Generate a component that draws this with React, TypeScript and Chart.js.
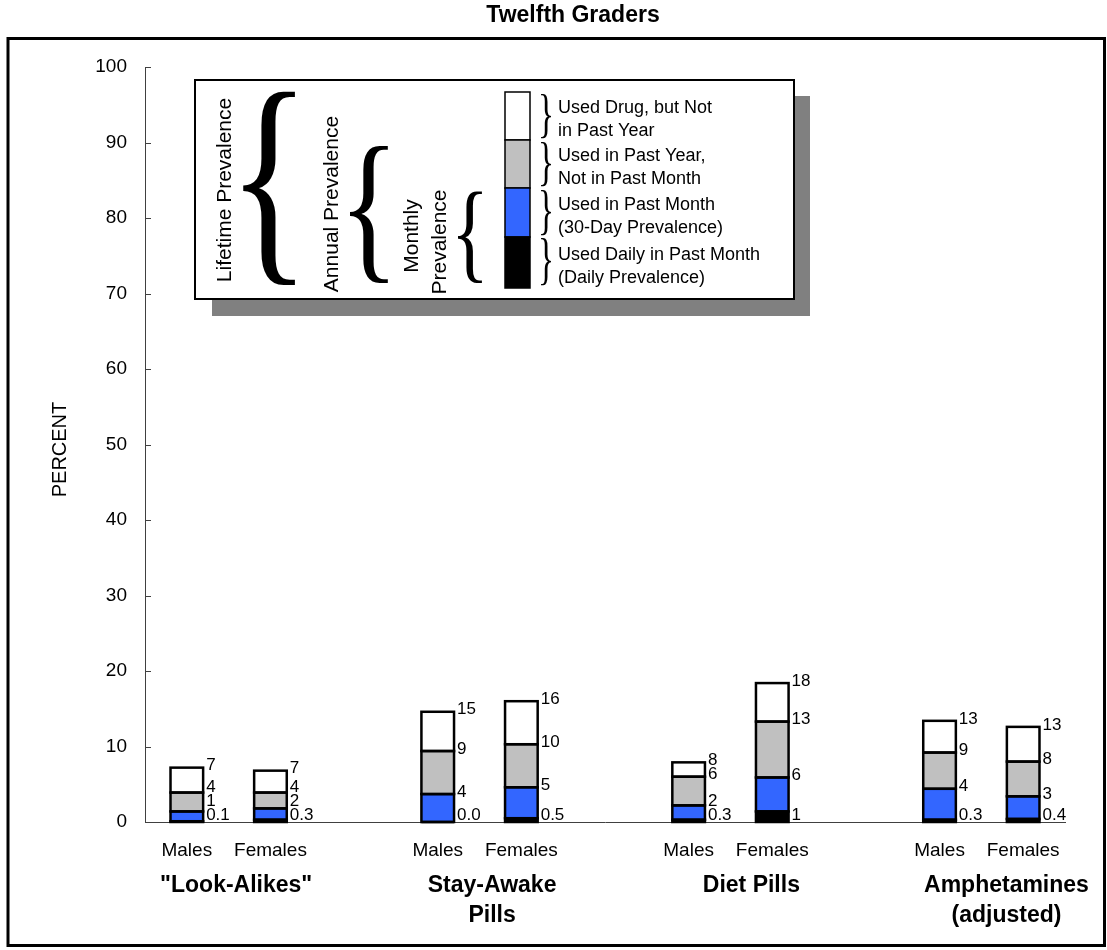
import React, { useEffect, useRef } from 'react';
import { Chart, registerables } from 'chart.js';

Chart.register(...registerables);

// ---------- Data ----------
const title = 'Twelfth Graders';
const yAxisTitle = 'PERCENT';
const groups = ['"Look-Alikes"', 'Stay-Awake\nPills', 'Diet Pills', 'Amphetamines\n(adjusted)'];
const sexes = ['Males', 'Females'];
// cumulative prevalence per bar (Males, Females for each group)
const daily = [0.1, 0.3, 0.0, 0.5, 0.3, 1.4, 0.3, 0.4];
const monthly = [1.4, 1.8, 3.7, 4.6, 2.2, 5.9, 4.4, 3.4];
const annual = [3.9, 3.9, 9.4, 10.3, 6.0, 13.3, 9.2, 8.0];
const lifetime = [7.2, 6.8, 14.6, 16.0, 7.9, 18.4, 13.4, 12.6];
const yMin = 0;
const yMax = 100;
const yStep = 10;
const legendRight = [
  ['Used Drug, but Not', 'in Past Year'],
  ['Used in Past Year,', 'Not in Past Month'],
  ['Used in Past Month', '(30-Day Prevalence)'],
  ['Used Daily in Past Month', '(Daily Prevalence)'],
];
const legendLeft = ['Lifetime Prevalence', 'Annual Prevalence', ['Monthly', 'Prevalence']];

// ---------- Styles ----------
const FONT = 'Arial, "Liberation Sans", Helvetica, sans-serif';
const SERIF = '"Liberation Serif", "Times New Roman", "DejaVu Serif", serif';
const segColors = ['#000000', '#3366FF', '#C0C0C0', '#FFFFFF'];
const legendColors = ['#FFFFFF', '#C0C0C0', '#3366FF', '#000000'];
const groupLabelShift = [0.09, 0.15, 0.25, 0.3];

// slots: 11 category positions with blank separators
const slotOf = (k: number) => Math.floor(k / 2) * 3 + (k % 2);
const nSlots = groups.length * 3 - 1;
const slotLabels: string[] = [];
for (let s = 0; s < nSlots; s++) slotLabels.push(s % 3 === 2 ? '' : sexes[s % 3]);

function slotData(vals: number[]) {
  const arr: (number | null)[] = new Array(nSlots).fill(null);
  vals.forEach((v, k) => (arr[slotOf(k)] = v));
  return arr;
}
const r1 = (v: number) => Math.round(v * 100) / 100;
const segDaily = daily;
const segMonthly = monthly.map((v, i) => r1(v - daily[i]));
const segAnnual = annual.map((v, i) => r1(v - monthly[i]));
const segLife = lifetime.map((v, i) => r1(v - annual[i]));

const fmt = (v: number) => (v < 1 ? v.toFixed(1) : String(Math.round(v)));

function drawBrace(ctx: CanvasRenderingContext2D, ch: string, x: number, y: number, w: number, h: number) {
  ctx.save();
  ctx.font = `200px ${SERIF}`;
  ctx.textAlign = 'left';
  ctx.textBaseline = 'alphabetic';
  const m = ctx.measureText(ch);
  const iw = m.actualBoundingBoxLeft + m.actualBoundingBoxRight;
  const ih = m.actualBoundingBoxAscent + m.actualBoundingBoxDescent;
  ctx.translate(x, y);
  ctx.scale(w / iw, h / ih);
  ctx.fillStyle = '#000';
  ctx.fillText(ch, m.actualBoundingBoxLeft, m.actualBoundingBoxAscent);
  ctx.restore();
}

function vText(ctx: CanvasRenderingContext2D, t: string, cx: number, cy: number, font: string) {
  ctx.save();
  ctx.translate(cx, cy);
  ctx.rotate(-Math.PI / 2);
  ctx.font = font;
  ctx.textAlign = 'center';
  ctx.textBaseline = 'middle';
  ctx.fillStyle = '#000';
  ctx.fillText(t, 0, 0);
  ctx.restore();
}

const decor = {
  id: 'decor',
  beforeDraw(chart: any) {
    const ctx = chart.ctx;
    ctx.save();
    ctx.fillStyle = '#fff';
    ctx.fillRect(0, 0, chart.width, chart.height);
    ctx.restore();
  },
  afterDatasetsDraw(chart: any) {
    const ctx: CanvasRenderingContext2D = chart.ctx;
    const xs = chart.scales.x;
    const ys = chart.scales.y;
    ctx.save();
    // tick marks inside the y axis
    ctx.strokeStyle = '#404040';
    ctx.lineWidth = 1;
    for (let v = yMin; v <= yMax; v += yStep) {
      const y = Math.round(ys.getPixelForValue(v)) + 0.5;
      ctx.beginPath();
      ctx.moveTo(xs.left, y);
      ctx.lineTo(xs.left + 6, y);
      ctx.stroke();
    }
    // bar segment borders
    ctx.strokeStyle = '#000';
    ctx.lineWidth = 2.5;
    let barW = 0;
    for (let d = 0; d < 4; d++) {
      const meta = chart.getDatasetMeta(d);
      for (let k = 0; k < daily.length; k++) {
        const el: any = meta.data[slotOf(k)];
        if (!el) continue;
        const p = el.getProps(['x', 'y', 'base', 'width'], true);
        barW = p.width;
        const top = Math.min(p.y, p.base);
        const bot = Math.max(p.y, p.base);
        ctx.strokeRect(p.x - p.width / 2, top, p.width, bot - top);
      }
    }
    // value labels
    ctx.fillStyle = '#000';
    ctx.font = `17px ${FONT}`;
    ctx.textAlign = 'left';
    ctx.textBaseline = 'middle';
    const axisY = ys.getPixelForValue(0);
    for (let k = 0; k < daily.length; k++) {
      const x = xs.getPixelForValue(slotOf(k)) + barW / 2 + 3;
      const yD = axisY - 7;
      const yM = Math.min(ys.getPixelForValue(monthly[k]) - 2, yD - 14);
      const yA = Math.min(ys.getPixelForValue(annual[k]) - 2, yM - 14);
      const yL = Math.min(ys.getPixelForValue(lifetime[k]) - 2, yA - 14);
      ctx.fillText(fmt(daily[k]), x, yD);
      ctx.fillText(fmt(monthly[k]), x, yM);
      ctx.fillText(fmt(annual[k]), x, yA);
      ctx.fillText(fmt(lifetime[k]), x, yL);
    }
    ctx.restore();
  },
  afterDraw(chart: any) {
    const ctx: CanvasRenderingContext2D = chart.ctx;
    const xs = chart.scales.x;
    const ys = chart.scales.y;
    ctx.save();
    // outer frame
    ctx.strokeStyle = '#000';
    ctx.lineWidth = 3;
    ctx.strokeRect(8, 38.5, 1096.5, 907);
    // title
    ctx.fillStyle = '#000';
    ctx.font = `bold 23px ${FONT}`;
    ctx.textAlign = 'center';
    ctx.textBaseline = 'alphabetic';
    ctx.fillText(title, 573, 22);
    // y axis title
    vText(ctx, yAxisTitle, 60, (ys.top + ys.bottom) / 2 + 5, `20px ${FONT}`);
    // group labels
    ctx.font = `bold 23px ${FONT}`;
    ctx.textAlign = 'center';
    ctx.textBaseline = 'middle';
    groups.forEach((g, i) => {
      const cx = xs.getPixelForValue(i * 3 + 0.5 + groupLabelShift[i]);
      g.split('\n').forEach((line, j) => ctx.fillText(line, cx, 886 + j * 30));
    });
    // legend: shadow + box
    ctx.fillStyle = '#808080';
    ctx.fillRect(212, 96, 598, 220);
    ctx.fillStyle = '#fff';
    ctx.fillRect(195, 80, 599, 219);
    ctx.strokeStyle = '#000';
    ctx.lineWidth = 2;
    ctx.strokeRect(195, 80, 599, 219);
    vText(ctx, legendLeft[0] as string, 225, 190, `21px ${FONT}`);
    vText(ctx, legendLeft[1] as string, 332, 204, `21px ${FONT}`);
    const mp = legendLeft[2] as string[];
    vText(ctx, mp[0], 412, 236, `21px ${FONT}`);
    vText(ctx, mp[1], 440, 242, `21px ${FONT}`);
    drawBrace(ctx, '{', 243, 93, 52, 192);
    drawBrace(ctx, '{', 350, 147, 38, 136);
    drawBrace(ctx, '{', 458, 192, 24, 91);
    const segY = [92, 140, 188, 237, 288];
    for (let i = 0; i < 4; i++) {
      ctx.fillStyle = legendColors[i];
      ctx.fillRect(505, segY[i], 25, segY[i + 1] - segY[i]);
      ctx.strokeStyle = '#000';
      ctx.lineWidth = 1.5;
      ctx.strokeRect(505, segY[i], 25, segY[i + 1] - segY[i]);
      drawBrace(ctx, '}', 541, segY[i] + 2, 10, segY[i + 1] - segY[i] - 4);
      const c = (segY[i] + segY[i + 1]) / 2 + 4;
      ctx.fillStyle = '#000';
      ctx.font = `18px ${FONT}`;
      ctx.textAlign = 'left';
      ctx.textBaseline = 'middle';
      ctx.fillText(legendRight[i][0], 558, c - 11.5);
      ctx.fillText(legendRight[i][1], 558, c + 11.5);
    }
    ctx.restore();
  },
};

export default function App() {
  const ref = useRef<HTMLCanvasElement | null>(null);
  useEffect(() => {
    if (!ref.current) return;
    const chart = new Chart(ref.current, {
      type: 'bar',
      data: {
        labels: slotLabels,
        datasets: [
          { label: 'Daily', data: slotData(segDaily), backgroundColor: segColors[0], borderWidth: 0 },
          { label: 'Monthly', data: slotData(segMonthly), backgroundColor: segColors[1], borderWidth: 0 },
          { label: 'Annual', data: slotData(segAnnual), backgroundColor: segColors[2], borderWidth: 0 },
          { label: 'Lifetime', data: slotData(segLife), backgroundColor: segColors[3], borderWidth: 0 },
        ],
      },
      options: {
        responsive: false,
        animation: false,
        layout: { padding: { left: 0, top: 67, right: 42, bottom: 0 } },
        datasets: { bar: { categoryPercentage: 1, barPercentage: 0.39 } },
        plugins: { legend: { display: false }, tooltip: { enabled: false }, title: { display: false } },
        scales: {
          x: {
            stacked: true,
            offset: true,
            grid: { display: false, drawTicks: false },
            border: { display: true, color: '#404040', width: 1 },
            ticks: {
              autoSkip: false,
              maxRotation: 0,
              minRotation: 0,
              padding: 17,
              color: '#000',
              font: { family: FONT, size: 19 },
            },
            afterFit: (s: any) => {
              s.height = 128;
            },
          },
          y: {
            stacked: true,
            min: yMin,
            max: yMax,
            grid: { display: false, drawTicks: false },
            border: { display: true, color: '#404040', width: 1 },
            ticks: { stepSize: yStep, padding: 18, color: '#000', font: { family: FONT, size: 19 } },
            afterFit: (s: any) => {
              s.width = 145;
            },
          },
        },
      } as any,
      plugins: [decor],
    });
    return () => chart.destroy();
  }, []);
  return (
    <div style={{ position: 'absolute', left: 0, top: 0, width: 1107, height: 950 }}>
      <canvas ref={ref} width={1107} height={950} style={{ display: 'block' }} />
    </div>
  );
}
